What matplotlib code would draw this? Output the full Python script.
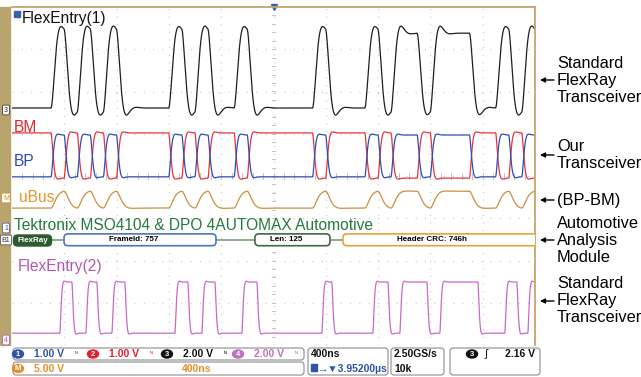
import numpy as np
import matplotlib.pyplot as plt
from matplotlib.patches import FancyBboxPatch, Rectangle, Ellipse

plt.rcParams['font.family'] = ['Liberation Sans', 'DejaVu Sans']

# time base: 400 ns/div over 10 divisions, 100 ns per FlexRay bit
T_END = 4000
BIT_NS = 100

# receiver output of the standard transceiver, one value per bit
RX1_BITS = [0, 0, 0, 1, 0, 1, 0, 1, 0, 0,
            0, 0, 1, 0, 1, 0, 0, 1, 0, 0,
            0, 0, 0, 1, 0, 0, 0, 1, 0, 1,
            1, 0, 1, 1, 1, 0, 0, 1, 0, 1]
# BP line of our transceiver (BM is its mirror)
BUS_BITS = [0, 0, 0, 1, 0, 1, 0, 1, 0, 0,
            0, 0, 1, 0, 1, 0, 0, 1, 0, 0,
            0, 0, 0, 1, 0, 0, 0, 1, 0, 1,
            1, 0, 1, 1, 1, 0, 0, 1, 0, 1]
# second standard transceiver: edge times in ns, starting low
RX2_EDGES = [367, 459, 566, 650, 765, 864, 1247, 1346, 1453, 1553,
             1759, 1874, 2371, 2447, 2761, 2876, 2967, 3174, 3273,
             3564, 3770, 3862, 3946]

# (low, high) of each trace in screen divisions
RX1_LEVELS = (5.61, 7.38)
BM_LEVELS = (3.95, 5.02)
BP_LEVELS = (3.98, 4.97)
UBUS_LEVELS = (3.24, 3.64)
RX2_LEVELS = (0.28, 1.49)

# decoded FlexRay header fields
FIELD_LABELS = ['FrameId: 757', 'Len: 125', 'Header CRC: 746h']
FIELD_START = [398, 1858, 2531]
FIELD_END = [1560, 2432, 4080]
FIELD_COLORS = ['#4a76c4', '#3d6b3d', '#e6a437']
BUS_ROW = 2.49


def bits_step(bits, t):
    idx = np.clip((t // BIT_NS).astype(int), 0, len(bits) - 1)
    return np.asarray(bits, dtype=float)[idx]


def edges_step(edges, t):
    return (np.searchsorted(edges, t, side='right') % 2).astype(float)


def probe(u, period, zeta):
    # second-order response, 1 ns per sample
    w = 2 * np.pi / period
    out = np.empty_like(u)
    pos, vel = u[0], 0.0
    for i, target in enumerate(u):
        vel += w * w * (target - pos) - 2 * zeta * w * vel
        pos += vel
        out[i] = pos
    return out


t = np.arange(-300, T_END + 1, 1.0)
keep = t >= 0
rx1 = probe(bits_step(RX1_BITS, t), 125, 0.6)
bp = probe(bits_step(BUS_BITS, t), 70, 0.75)
bm = probe(1 - bits_step(BUS_BITS, t), 70, 0.75)
ubus = probe(bits_step(BUS_BITS, t), 150, 0.8)
rx2 = probe(edges_step(RX2_EDGES, t), 45, 0.75)


def scale(y, levels):
    lo, hi = levels
    return lo + (hi - lo) * y[keep]


fig = plt.figure(figsize=(6.41, 3.77), dpi=100)
ax = fig.add_axes([12 / 641, 32 / 377, 523 / 641, 338 / 377])
ax.set_xlim(0, T_END)
ax.set_ylim(0, 8)
ax.set_xticks([])
ax.set_yticks([])
for side in ['left', 'bottom']:
    ax.spines[side].set_visible(False)
for side in ['top', 'right']:
    ax.spines[side].set_color('#c9a46a')
    ax.spines[side].set_linewidth(1.3)

# graticule
grid = '#c4c4c4'
for x in range(400, T_END, 400):
    ax.axvline(x, color=grid, lw=0.9, ls=(0, (0.8, 5.3)), zorder=0)
for y in range(1, 8):
    ax.axhline(y, color=grid, lw=0.9, ls=(0, (0.8, 6.7)), zorder=0)
for y in np.arange(0.2, 8, 0.2):
    ax.plot([1985, 2015], [y, y], color=grid, lw=0.7, zorder=0)
for x in np.arange(80, T_END, 80):
    ax.plot([x, x], [3.93, 4.07], color=grid, lw=0.7, zorder=0)
ax.plot([2000], [8], marker='v', color='#3a5fb0', ms=5, clip_on=False)

tt = t[keep]
ax.plot(tt, scale(rx1, RX1_LEVELS), color='#1e1e1e', lw=0.9)
ax.plot(tt, scale(bm, BM_LEVELS), color='#e8323a', lw=0.9)
ax.plot(tt, scale(bp, BP_LEVELS), color='#2e4db4', lw=0.9)
ax.plot(tt, scale(ubus, UBUS_LEVELS), color='#c8913f', lw=0.9)
ax.plot(tt, scale(rx2, RX2_LEVELS), color='#c66ac6', lw=0.9)

# bus decode row
ax.plot([300, T_END], [BUS_ROW, BUS_ROW], color='#7e9a7e', lw=1.2, zorder=2)
for label, x0, x1, col in zip(FIELD_LABELS, FIELD_START, FIELD_END, FIELD_COLORS):
    box = FancyBboxPatch((x0, BUS_ROW - 0.14), x1 - x0, 0.28,
                         boxstyle='round,pad=0,rounding_size=30',
                         mutation_aspect=0.0031, fc='white', ec=col,
                         lw=1.2, zorder=3)
    ax.add_patch(box)
    ax.text((x0 + min(x1, T_END)) / 2 - 50, BUS_ROW, label, fontsize=5.8,
            fontweight='bold', ha='center', va='center', zorder=4)

# overlay in pixel units for labels, side panel and readouts
ov = fig.add_axes([0, 0, 1, 1], zorder=5)
ov.set_xlim(0, 641)
ov.set_ylim(377, 0)
ov.axis('off')
ov.patch.set_visible(False)

ov.add_patch(Rectangle((0, 7), 10, 338, color='#b8a46c'))
ov.add_patch(FancyBboxPatch((13.5, 235), 38, 11, boxstyle='round,pad=0,rounding_size=4',
                            fc='#2e5a2e', ec='#2e5a2e'))
ov.text(32.5, 240.5, 'FlexRay', color='white', fontsize=5.8, fontweight='bold',
        ha='center', va='center')

tags = [('3', 110, '#222222'), ('M', 198, '#d08a20'), ('1', 228, '#3050a0'),
        ('B1', 240, '#333333'), ('4', 340, '#b050b0')]
for txt, y, col in tags:
    ov.text(6, y, txt, fontsize=5, color=col, ha='center', va='center',
            bbox=dict(boxstyle='round,pad=0.2', fc='white', ec=col, lw=0.5))

ov.add_patch(Rectangle((14, 11), 6, 6, color='#3a5fb0'))
lab = dict(fontsize=11.2, va='center', ha='left')
ov.text(22, 18, 'FlexEntry(1)', color='#111111', **lab)
ov.text(14, 127, 'BM', color='#e0262e', **lab)
ov.text(14, 161, 'BP', color='#2a4aa8', **lab)
ov.text(19, 198, 'uBus', color='#e6962a', **lab)
ov.text(14, 225, 'Tektronix MSO4104 & DPO 4AUTOMAX Automotive', color='#237a3b', **lab)
ov.text(18, 266, 'FlexEntry(2)', color='#b255b2', **lab)

# annotations to the right of the screen
notes = [(['Standard', 'FlexRay', 'Transceiver'], 80),
         (['Our', 'Transceiver'], 155),
         (['(BP-BM)'], 200),
         (['Automotive', 'Analysis', 'Module'], 240),
         (['Standard', 'FlexRay', 'Transceiver'], 301)]
for lines, ya in notes:
    n = len(lines)
    y0 = ya - 8.5 * (n - 1) if n != 2 else ya - 8.5
    for k, line in enumerate(lines):
        ov.text(557, y0 + 17 * k, line, fontsize=11.8, va='center', ha='left')
    ov.annotate('', xy=(540, ya), xytext=(554, ya),
                arrowprops=dict(arrowstyle='-|>', color='black', lw=1,
                                mutation_scale=7, shrinkA=0, shrinkB=0))

# readout panel
def panel(x0, y0, w, h):
    ov.add_patch(FancyBboxPatch((x0, y0), w, h, boxstyle='round,pad=0,rounding_size=3',
                                fc='white', ec='#8c8c8c', lw=0.8))


def badge(x, y, txt, col):
    ov.add_patch(Ellipse((x, y), 11, 8, color=col))
    ov.text(x, y, txt, color='white', fontsize=5.5, fontweight='bold',
            ha='center', va='center')


rd = dict(fontsize=7.5, fontweight='bold', va='center', ha='left')
panel(13, 348, 291, 12)
panel(13, 362, 291, 13)
panel(308, 348, 80, 27)
panel(391, 348, 53, 27)
panel(450, 348, 90, 27)

channels = [('1', '1.00 V', '#2c54a8', 18), ('2', '1.00 V', '#e02030', 93),
            ('3', '2.00 V', '#111111', 167), ('4', '2.00 V', '#c070c0', 238)]
for num, volts, col, x in channels:
    badge(x, 354, num, col)
    ov.text(x + 16, 354, volts, color=col, **rd)
    ov.text(x + 57, 354, 'ᴺ', color=col, fontsize=5, ha='left', va='center')
badge(18, 368.5, 'M', '#e0902a')
ov.text(34, 368.5, '5.00 V', color='#e0902a', **rd)
ov.text(182, 368.5, '400ns', color='#e0902a', **rd)
ov.text(311, 354, '400ns', color='#111111', **rd)
ov.add_patch(Rectangle((311, 364), 6, 7, color='#2c54a8'))
ov.text(318, 368.5, '→▼3.95200µs', color='#2c54a8', **rd)
ov.text(394, 354, '2.50GS/s', color='#111111', **rd)
ov.text(394, 368.5, '10k', color='#111111', **rd)
badge(472, 354, '3', '#111111')
ov.text(485, 354, '∫', color='#111111', fontsize=8, ha='left', va='center')
ov.text(505, 354, '2.16 V', color='#111111', **rd)

fig.savefig('out.png', dpi=100)
